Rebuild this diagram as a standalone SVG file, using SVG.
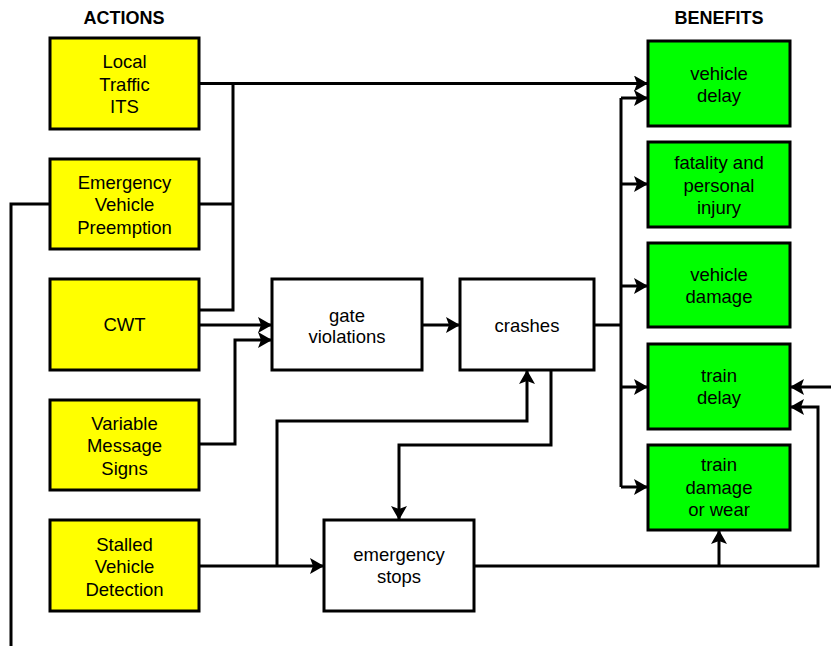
<svg xmlns="http://www.w3.org/2000/svg" width="831" height="646" viewBox="0 0 831 646">
<style>
text{font-family:"Liberation Sans",Arial,sans-serif;font-size:18.5px;fill:#000;text-anchor:middle}
.h{font-weight:bold;font-size:18px}
.box{stroke:#000;stroke-width:3}
.act{fill:#ffff00}
.ben{fill:#00ff00}
.mid{fill:#fff}
.c{fill:none;stroke:#000;stroke-width:3}
.a{marker-end:url(#arr)}
</style>
<defs>
<marker id="arr" viewBox="0 0 14 16" refX="14" refY="8" markerWidth="14" markerHeight="16" markerUnits="userSpaceOnUse" orient="auto">
<path d="M0,0 L14,8 L0,16 L3,8 Z" fill="#000"/>
</marker>
</defs>
<rect width="831" height="646" fill="#fff"/>
<text class="h" x="124" y="24">ACTIONS</text>
<text class="h" x="719" y="24">BENEFITS</text>
<g id="connectors">
<path class="c a" d="M199,83.5 H648"/>
<path class="c" d="M233,83.5 V310 H199"/>
<path class="c" d="M199,204 H233"/>
<path class="c" d="M50,204 H11 V646"/>
<path class="c a" d="M199,325 H272"/>
<path class="c a" d="M199,444 H235 V340 H272"/>
<path class="c a" d="M422,325 H460"/>
<path class="c" d="M594,325 H621"/>
<path class="c" d="M621,98 V487"/>
<path class="c a" d="M621,98 H648"/>
<path class="c a" d="M621,184 H648"/>
<path class="c a" d="M621,286 H648"/>
<path class="c a" d="M621,387 H648"/>
<path class="c a" d="M621,487 H648"/>
<path class="c a" d="M551,370 V445 H399 V520"/>
<path class="c a" d="M199,566 H324"/>
<path class="c a" d="M277,566 V421 H527 V370"/>
<path class="c a" d="M474,566 H818 V407 H790"/>
<path class="c a" d="M719,566 V530"/>
<path class="c a" d="M831,387 H790"/>
</g>
<g id="local-traffic-its">
<rect class="box act" x="50" y="38" width="149" height="91"/>
<text x="124.5" y="68">Local</text><text x="124.5" y="91">Traffic</text><text x="124.5" y="113">ITS</text>
</g>
<g id="emergency-vehicle-preemption">
<rect class="box act" x="50" y="159" width="149" height="90"/>
<text x="124.5" y="189">Emergency</text><text x="124.5" y="211">Vehicle</text><text x="124.5" y="234">Preemption</text>
</g>
<g id="cwt">
<rect class="box act" x="50" y="279" width="149" height="91"/>
<text x="124.5" y="331">CWT</text>
</g>
<g id="variable-message-signs">
<rect class="box act" x="50" y="400" width="149" height="90"/>
<text x="124.5" y="430">Variable</text><text x="124.5" y="452">Message</text><text x="124.5" y="475">Signs</text>
</g>
<g id="stalled-vehicle-detection">
<rect class="box act" x="50" y="520" width="149" height="91"/>
<text x="124.5" y="551">Stalled</text><text x="124.5" y="573">Vehicle</text><text x="124.5" y="596">Detection</text>
</g>
<g id="gate-violations">
<rect class="box mid" x="272" y="279" width="150" height="91"/>
<text x="347" y="322">gate</text><text x="347" y="343">violations</text>
</g>
<g id="crashes">
<rect class="box mid" x="460" y="279" width="134" height="91"/>
<text x="527" y="332">crashes</text>
</g>
<g id="emergency-stops">
<rect class="box mid" x="324" y="520" width="150" height="91"/>
<text x="399" y="561">emergency</text><text x="399" y="583">stops</text>
</g>
<g id="vehicle-delay">
<rect class="box ben" x="648" y="41" width="142" height="85"/>
<text x="719" y="80">vehicle</text><text x="719" y="102">delay</text>
</g>
<g id="fatality-personal-injury">
<rect class="box ben" x="648" y="142" width="142" height="85"/>
<text x="719" y="169">fatality and</text><text x="719" y="192">personal</text><text x="719" y="214">injury</text>
</g>
<g id="vehicle-damage">
<rect class="box ben" x="648" y="243" width="142" height="84"/>
<text x="719" y="281">vehicle</text><text x="719" y="303">damage</text>
</g>
<g id="train-delay">
<rect class="box ben" x="648" y="344" width="142" height="85"/>
<text x="719" y="382">train</text><text x="719" y="404">delay</text>
</g>
<g id="train-damage-wear">
<rect class="box ben" x="648" y="445" width="142" height="85"/>
<text x="719" y="471">train</text><text x="719" y="494">damage</text><text x="719" y="516">or wear</text>
</g>
</svg>
